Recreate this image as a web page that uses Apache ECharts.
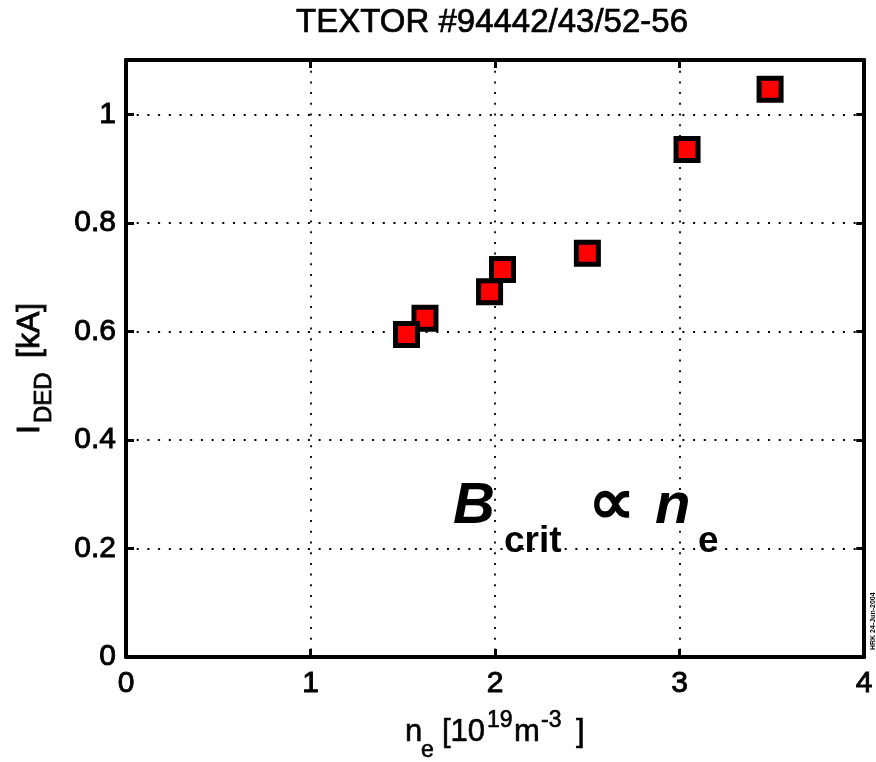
<!DOCTYPE html>
<html><head><meta charset="utf-8">
<script src="https://cdn.jsdelivr.net/npm/echarts@6/dist/echarts.min.js"></script>
<style>html,body{margin:0;padding:0;background:#fff}#c{width:876px;height:762px}</style>
</head><body><div id="c"></div>
<script>
// data
const density = [1.62, 2.04, 1.52, 1.97, 2.50, 3.04, 3.49];   // n_e [10^19 m^-3]
const current = [0.624, 0.714, 0.594, 0.673, 0.744, 0.935, 1.046]; // I_DED [kA]
const xTickValues = [0, 1, 2, 3, 4];
const yTickValues = [0, 0.2, 0.4, 0.6, 0.8, 1.0];
const titleText = 'TEXTOR #94442/43/52-56';
const stampText = 'HRK 24-Jun-2004';

const FF = '"Liberation Sans", Arial, Helvetica, sans-serif';
function txt(text, x, base, size, opts) {
  opts = opts || {};
  const font = (opts.style || 'normal') + ' ' + (opts.weight || 'normal') + ' ' + size + 'px ' + FF;
  const a = opts.align || 'left';
  const st = { text: text, font: font, fill: '#000', textAlign: a, align: a,
               textVerticalAlign: 'middle', verticalAlign: 'middle' };
  if (opts.stroke) { st.stroke = '#000'; st.lineWidth = opts.stroke; }
  return { type: 'text', x: x, y: base - 0.31 * size, silent: true, z: 10, style: st };
}

const axisLine = { show: true, onZero: false, lineStyle: { color: '#000', width: 4 } };
const axisTick = { show: true, inside: true, length: 8, lineStyle: { color: '#000', width: 3 } };
const gridLine = { show: true, lineStyle: { color: '#000', width: 1.8, type: [2, 8.7] } };
const labelStyle = { color: '#000', fontSize: 30, fontFamily: FF, textBorderColor: '#000', textBorderWidth: 0.9 };
const xMin = xTickValues[0], xMax = xTickValues[xTickValues.length - 1];
const yMin = yTickValues[0], yMax = 1.1;

const chart = echarts.init(document.getElementById('c'), null, { renderer: 'canvas' });
chart.setOption({
  animation: false,
  backgroundColor: '#fff',
  grid: { left: 126, right: 10, top: 60, bottom: 105 },
  xAxis: [
    { type: 'value', min: xMin, max: xMax, interval: 1, position: 'bottom',
      axisLine: axisLine, axisTick: axisTick, splitLine: gridLine,
      axisLabel: Object.assign({ margin: 12 }, labelStyle) },
    { type: 'value', min: xMin, max: xMax, interval: 1, position: 'top',
      axisLine: axisLine, axisTick: axisTick, splitLine: { show: false },
      axisLabel: { show: false } }
  ],
  yAxis: [
    { type: 'value', min: yMin, max: yMax, interval: 0.2, position: 'left',
      axisLine: axisLine, axisTick: axisTick, splitLine: gridLine,
      axisLabel: Object.assign({ margin: 10, showMaxLabel: false, padding: [8, 0, 0, 0],
                   formatter: function (v) { return yTickValues.some(t => Math.abs(t - v) < 1e-9) ? String(+v.toFixed(1)) : ''; } }, labelStyle) },
    { type: 'value', min: yMin, max: yMax, interval: 0.2, position: 'right',
      axisLine: axisLine, axisTick: axisTick, splitLine: { show: false },
      axisLabel: { show: false } }
  ],
  series: [{
    type: 'scatter', xAxisIndex: 0, yAxisIndex: 0,
    data: density.map((x, i) => [x, current[i]]),
    symbol: 'rect', symbolSize: 22, z: 5,
    itemStyle: { color: '#ff0000', borderColor: '#000', borderWidth: 5, opacity: 1 },
    emphasis: { disabled: true }
  }],
  graphic: [
    txt(titleText, 492, 33, 33, { align: 'center', stroke: 0.7 }),
    // y axis name
    { type: 'group', x: 40, y: 434, rotation: Math.PI / 2, children: [
        txt('I', 0, 0, 32, { stroke: 0.9 }), txt('DED', 11, 12, 24, { stroke: 0.8 }), txt('[kA]', 76, 0, 32, { stroke: 0.9 }) ] },
    // x axis name
    txt('n', 405, 742, 31, { stroke: 0.6 }), txt('e', 421, 758, 23, { stroke: 0.6 }), txt('[10', 442, 742, 31, { stroke: 0.6 }),
    txt('19', 487, 728, 23, { stroke: 0.6 }), txt('m', 514, 742, 31, { stroke: 0.6 }), txt('-3', 541, 728, 23, { stroke: 0.6 }),
    txt(']', 576, 742, 31, { stroke: 0.6 }),
    // annotation
    txt('B', 453, 525, 58, { style: 'italic', weight: 'bold' }),
    txt('crit', 504, 553, 37, { weight: 'bold' }),
    { type: 'text', x: 611, y: 506, silent: true, z: 10,
      style: { text: '\u221D', font: 'normal bold 66px ' + FF, fill: '#000',
               textAlign: 'center', align: 'center', textVerticalAlign: 'middle', verticalAlign: 'middle' } },
    txt('n', 655, 525, 58, { style: 'italic', weight: 'bold' }),
    txt('e', 698, 553, 37, { weight: 'bold' }),
    // stamp
    { type: 'group', x: 873, y: 650, rotation: Math.PI / 2, children: [
        txt(stampText, 0, 2, 7, { weight: 'bold' }) ] }
  ]
});
</script></body></html>
